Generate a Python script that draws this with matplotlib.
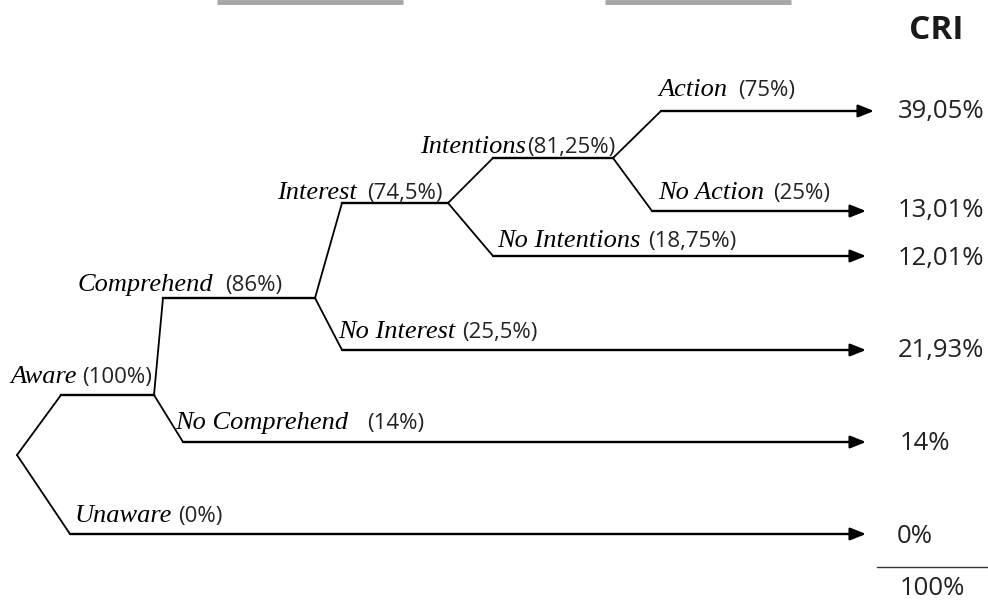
import matplotlib
matplotlib.use("Agg")
import matplotlib.pyplot as plt

# ---- data ----
stage_labels = ["Aware", "Unaware", "Comprehend", "No Comprehend", "Interest",
                "No Interest", "Intentions", "No Intentions", "Action", "No Action"]
stage_pcts = ["(100%)", "(0%)", "(86%)", "(14%)", "(74,5%)",
              "(25,5%)", "(81,25%)", "(18,75%)", "(75%)", "(25%)"]
cri_values = ["39,05%", "13,01%", "12,01%", "21,93%", "14%", "0%"]
cri_total = "100%"
cri_title = "CRI"

# ---- layout (pixel coordinates of the diagram) ----
W, H = 988, 602
root = (17, 455)
# parent point, bend point, end x, whether it ends in an arrow
branch_parent = [root, root, (154, 395), (154, 395), (315, 298),
                 (315, 298), (448, 203), (448, 203), (613, 158), (613, 158)]
branch_bend = [(61, 395), (70, 534), (163, 298), (183, 442), (342, 203),
               (342, 350), (493, 158), (493, 256), (661, 111), (652, 211)]
branch_end = [154, 866, 315, 866, 448, 866, 613, 866, 874, 866]
branch_arrow = [False, True, False, True, False, True, False, True, True, True]
label_x = [10, 75, 78, 175, 277, 338, 420, 497, 658, 658]
label_base = [383, 522, 291, 429, 199, 338, 153, 247, 96, 199]
pct_x = [82, 178, 225, 367, 367, 462, 527, 648, 738, 773]
cri_x = [898, 898, 898, 898, 900, 897]
cri_base = [118, 217, 265, 357, 450, 543]

fig = plt.figure(figsize=(W / 100, H / 100), dpi=100)
ax = fig.add_axes([0, 0, 1, 1])
ax.set_xlim(0, W)
ax.set_ylim(H, 0)
ax.axis("off")

lw_conn = 1.3
lw_h = 1.7
for par, bend, ex, arr in zip(branch_parent, branch_bend, branch_end, branch_arrow):
    ax.plot([par[0], bend[0]], [par[1], bend[1]], color="black", lw=lw_conn,
            solid_capstyle="round")
    if arr:
        ax.annotate("", xy=(ex, bend[1]), xytext=(bend[0], bend[1]),
                    arrowprops=dict(arrowstyle="-|>,head_length=0.95,head_width=0.38",
                                    mutation_scale=10, color="black", lw=lw_h,
                                    shrinkA=0, shrinkB=0))
    else:
        ax.plot([bend[0], ex], [bend[1], bend[1]], color="black", lw=lw_h)

for lab, lx, lb, pct, px in zip(stage_labels, label_x, label_base, stage_pcts, pct_x):
    ax.text(lx, lb, lab, family="Liberation Serif", style="italic", fontsize=19,
            color="black", ha="left", va="baseline")
    ax.text(px, lb, pct, family="Open Sans", fontsize=16, color="#222222",
            ha="left", va="baseline")

for val, cx, cb in zip(cri_values, cri_x, cri_base):
    ax.text(cx, cb, val, family="Open Sans", fontsize=18.5, color="#222222",
            ha="left", va="baseline")

ax.plot([877, 988], [567, 567], color="#333333", lw=1.0)
ax.text(900, 595, cri_total, family="Open Sans", fontsize=18.5, color="#222222",
        ha="left", va="baseline")
ax.text(936, 39, cri_title, family="Open Sans", fontweight="bold", fontsize=24,
        color="#1a1a1a", ha="center", va="baseline")

# top grey bars
ax.plot([217, 403], [1.5, 1.5], color="#a6a6a8", lw=3.5, solid_capstyle="butt")
ax.plot([605, 791], [1.5, 1.5], color="#a6a6a8", lw=3.5, solid_capstyle="butt")

fig.savefig("out.png", dpi=100)
